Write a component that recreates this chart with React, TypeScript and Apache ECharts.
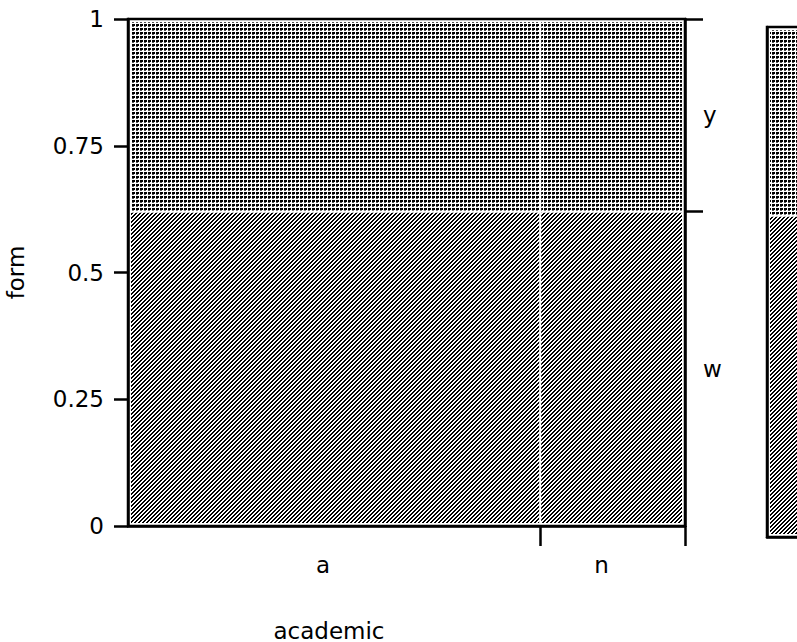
import { useEffect, useRef } from 'react';
import * as echarts from 'echarts';

// ---- data ----
const categories = ['a', 'n'];
const categoryShares = [0.74, 0.26];
const responses = ['w', 'y'];
const wShareByCategory = [0.62, 0.62];
const yTickValues = [0, 0.25, 0.5, 0.75, 1];
const secondPanelWShare = [0.63];
const xAxisTitle = 'academic';
const yAxisTitle = 'form';

const FONT = 'DejaVu Sans, Verdana, sans-serif';

function makePattern(kind: 'dots' | 'hatch') {
  const c = document.createElement('canvas');
  c.width = 4;
  c.height = 4;
  const ctx = c.getContext('2d')!;
  ctx.fillStyle = '#ffffff';
  ctx.fillRect(0, 0, 4, 4);
  if (kind === 'dots') {
    ctx.fillStyle = '#000000';
    ctx.fillRect(0, 0, 3, 2);
    ctx.fillStyle = '#555555';
    ctx.fillRect(0, 2, 2, 1);
  } else {
    ctx.fillStyle = '#000000';
    for (let x = 0; x < 4; x++) {
      for (let y = 0; y < 4; y++) {
        if ((x + y) % 4 < 2) ctx.fillRect(x, y, 1, 1);
      }
    }
  }
  return { image: c.toDataURL(), repeat: 'repeat', imageWidth: 4, imageHeight: 4 } as any;
}

function buildCells(shares: number[], wShares: number[]) {
  const cells: number[][] = [];
  let cum = 0;
  shares.forEach((s, i) => {
    const x0 = cum;
    const x1 = cum + s;
    cum = x1;
    const w = wShares[i];
    cells.push([x0, x1, 0, w, 0]);
    cells.push([x0, x1, w, 1, 1]);
  });
  return cells;
}

export default function App() {
  const ref = useRef<HTMLDivElement>(null);

  useEffect(() => {
    if (!ref.current) return;
    const chart = echarts.init(ref.current, null, { renderer: 'svg' });
    const hatch = makePattern('hatch');
    const dots = makePattern('dots');

    const renderItem = (params: any, api: any) => {
      const x0 = api.value(0);
      const x1 = api.value(1);
      const y0 = api.value(2);
      const y1 = api.value(3);
      const k = api.value(4);
      const p0 = api.coord([x0, y1]);
      const p1 = api.coord([x1, y0]);
      const l = p0[0] + (x0 <= 0.0001 ? 3 : 1);
      const r = p1[0] - (x1 >= 0.9999 ? 3 : 1);
      const t = p0[1] + (y1 >= 0.9999 ? 3 : 1);
      const b = p1[1] - (y0 <= 0.0001 ? 3 : 1);
      return {
        type: 'rect',
        shape: { x: l, y: t, width: r - l, height: b - t },
        style: { fill: k === 0 ? hatch : dots, stroke: null },
      };
    };

    const mainCells = buildCells(categoryShares, wShareByCategory);
    const secondCells = buildCells([1], secondPanelWShare);

    const boundaries: number[] = [];
    const mids: number[] = [];
    let cum = 0;
    categoryShares.forEach((s) => {
      mids.push(cum + s / 2);
      cum += s;
      boundaries.push(cum);
    });

    const lastW = wShareByCategory[wShareByCategory.length - 1];
    const rightTicks = [lastW, 1];
    const rightMids = [lastW / 2, (lastW + 1) / 2];

    const labelStyle = { color: '#000', fontFamily: FONT, fontSize: 23 };
    const blackLine = { color: '#000', width: 2.5 };

    chart.setOption({
      animation: false,
      backgroundColor: '#fff',
      grid: [
        {
          left: 128,
          top: 19,
          width: 557,
          height: 507,
          show: true,
          borderColor: '#000',
          borderWidth: 2.5,
          backgroundColor: '#fff',
          outerBoundsMode: 'none',
          containLabel: false,
        },
        {
          left: 767,
          top: 27,
          width: 400,
          height: 510,
          show: true,
          borderColor: '#000',
          borderWidth: 2.5,
          backgroundColor: '#fff',
          outerBoundsMode: 'none',
          containLabel: false,
        },
      ],
      xAxis: [
        {
          type: 'value',
          gridIndex: 0,
          min: 0,
          max: 1,
          splitLine: { show: false },
          axisLine: { show: true, lineStyle: blackLine },
          axisTick: { show: true, length: 20, lineStyle: blackLine, customValues: boundaries },
          axisLabel: {
            ...labelStyle,
            margin: 27,
            padding: [0, 22, 0, 0],
            customValues: mids,
            formatter: (v: number) => {
              let best = 0;
              mids.forEach((m, i) => {
                if (Math.abs(m - v) < Math.abs(mids[best] - v)) best = i;
              });
              return categories[best];
            },
          },
          name: xAxisTitle,
          nameLocation: 'middle',
          nameGap: 93,
          nameTextStyle: { ...labelStyle, lineHeight: 23, padding: [0, 155, 0, 0] },
        },
        {
          type: 'value',
          gridIndex: 1,
          min: 0,
          max: 1,
          splitLine: { show: false },
          axisLine: { show: true, lineStyle: blackLine },
          axisTick: { show: false },
          axisLabel: { show: false },
        },
      ],
      yAxis: [
        {
          type: 'value',
          gridIndex: 0,
          min: 0,
          max: 1,
          interval: 0.25,
          splitLine: { show: false },
          axisLine: { show: true, lineStyle: blackLine },
          axisTick: { show: true, length: 14, lineStyle: blackLine, customValues: yTickValues },
          axisLabel: { ...labelStyle, margin: 24, customValues: yTickValues },
          name: yAxisTitle,
          nameLocation: 'middle',
          nameGap: 101,
          nameTextStyle: { ...labelStyle },
        },
        {
          type: 'value',
          gridIndex: 0,
          position: 'right',
          min: 0,
          max: 1,
          splitLine: { show: false },
          axisLine: { show: true, lineStyle: blackLine },
          axisTick: { show: true, length: 18, lineStyle: blackLine, customValues: rightTicks },
          axisLabel: {
            ...labelStyle,
            margin: 18,
            padding: [18, 0, 0, 0],
            customValues: rightMids,
            formatter: (v: number) => (v < lastW ? responses[0] : responses[1]),
          },
        },
        {
          type: 'value',
          gridIndex: 1,
          min: 0,
          max: 1,
          splitLine: { show: false },
          axisLine: { show: true, lineStyle: blackLine },
          axisTick: { show: false },
          axisLabel: { show: false },
        },
      ],
      series: [
        {
          type: 'custom',
          xAxisIndex: 0,
          yAxisIndex: 0,
          renderItem,
          encode: { x: [0, 1], y: [2, 3] },
          data: mainCells,
          silent: true,
        },
        {
          type: 'custom',
          xAxisIndex: 1,
          yAxisIndex: 2,
          renderItem,
          encode: { x: [0, 1], y: [2, 3] },
          data: secondCells,
          silent: true,
        },
      ],
    });

    return () => chart.dispose();
  }, []);

  return (
    <div
      ref={ref}
      style={{ position: 'absolute', left: 0, top: 0, width: 797, height: 642 }}
    />
  );
}
